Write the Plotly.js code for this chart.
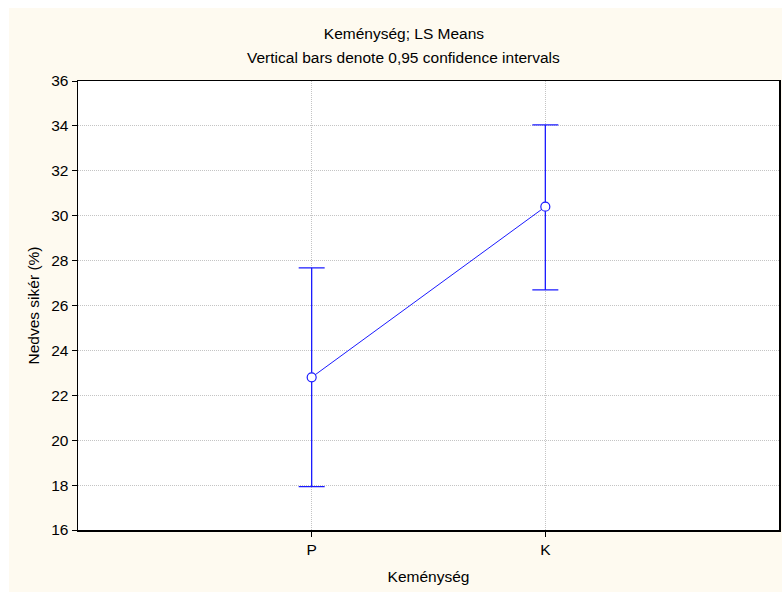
<!DOCTYPE html>
<html>
<head>
<meta charset="utf-8">
<script src="https://cdn.plot.ly/plotly-3.0.1.min.js"></script>
<style>
html,body{margin:0;padding:0;background:#ffffff;}
#chart{position:absolute;left:9px;top:8px;width:773px;height:584px;}
</style>
</head>
<body>
<div id="chart"></div>
<script>
const categories = ['P', 'K'];
const lsMeans = [22.8, 30.4];
const ciUpper = [27.68, 34.05];
const ciLower = [17.93, 26.7];
const yTicks = [16, 18, 20, 22, 24, 26, 28, 30, 32, 34, 36];

const xPos = categories.map((c, i) => i + 1);
const errPlus = lsMeans.map((m, i) => ciUpper[i] - m);
const errMinus = lsMeans.map((m, i) => m - ciLower[i]);

const blue = '#1a1aff';
const trace = {
  x: xPos,
  y: lsMeans,
  type: 'scatter',
  mode: 'lines+markers',
  line: {color: blue, width: 1},
  marker: {symbol: 'circle', size: 9, color: '#ffffff', line: {color: blue, width: 1.2}},
  error_y: {type: 'data', symmetric: false, array: errPlus, arrayminus: errMinus,
            color: blue, thickness: 1.3, width: 13},
  cliponaxis: false,
  hoverinfo: 'none'
};

const fam = '"Liberation Sans", Arial, sans-serif';
const font = {family: fam, size: 15.5, color: '#000000'};
const layout = {
  width: 773, height: 584,
  paper_bgcolor: '#fefaf0',
  plot_bgcolor: '#ffffff',
  font: font,
  showlegend: false,
  margin: {l: 69, r: 3, t: 73, b: 62},
  title: {text: 'Keménység; LS Means', font: font,
          x: 0.511, xanchor: 'center', y: 1 - 26/584, yanchor: 'middle', xref: 'container', yref: 'container'},
  annotations: [{
    text: 'Vertical bars denote 0,95 confidence intervals', xref: 'paper', yref: 'paper',
    x: 0.465, y: 1 + 24/449, xanchor: 'center', yanchor: 'middle', showarrow: false,
    font: font
  }],
  xaxis: {
    range: [0, 3], tickvals: xPos, ticktext: categories,
    showgrid: true, gridcolor: '#c4c4c4', griddash: '1px,1px', gridwidth: 1,
    showline: true, linecolor: '#000', linewidth: 1.5, mirror: true,
    ticks: 'outside', ticklen: 5, tickcolor: '#000',
    zeroline: false, tickfont: font,
    title: {text: 'Keménység', font: font, standoff: 14}
  },
  yaxis: {
    range: [16, 36], tickvals: yTicks,
    showgrid: true, gridcolor: '#c4c4c4', griddash: '1px,1px', gridwidth: 1,
    showline: true, linecolor: '#000', linewidth: 1.5, mirror: true,
    ticks: 'outside', ticklen: 5, tickcolor: '#000',
    zeroline: false, tickfont: font,
    title: {text: 'Nedves sikér (%)', font: font, standoff: 7}
  }
};

Plotly.newPlot('chart', [trace], layout, {displayModeBar: false, staticPlot: true});
</script>
</body>
</html>
